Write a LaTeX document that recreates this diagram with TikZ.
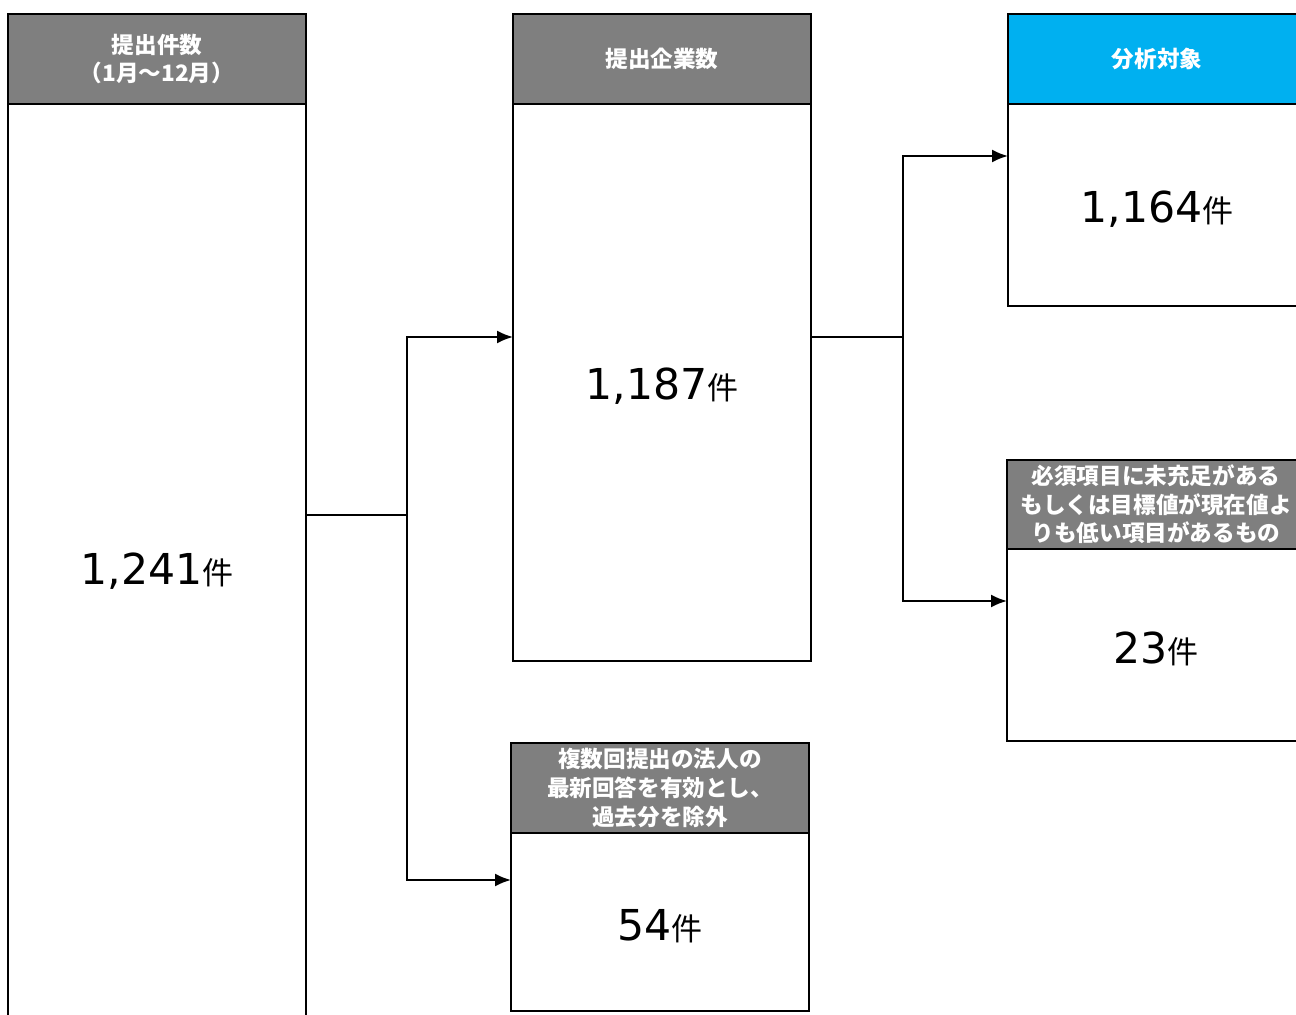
\documentclass[tikz,border=0pt]{standalone}
\usepackage{fontspec}
\setmainfont{DejaVu Sans}
\newfontfamily\jp{Noto Sans CJK JP}
\usetikzlibrary{positioning,arrows.meta}

\definecolor{headgray}{HTML}{7F7F7F}
\definecolor{headcyan}{HTML}{00B0F0}

\newcommand{\kensu}[1]{\raisebox{-2pt}[\height][\depth]{{\fontsize{21.3}{24}\selectfont #1}{\jp\fontsize{15.5}{18}\selectfont 件}}}

\tikzset{
    box/.style={draw=black,line width=1pt,inner sep=0pt,outer sep=0pt,minimum width=149pt},
    head/.style={box,fill=headgray,text=white,align=center,minimum height=45pt,anchor=north west,
        font=\jp\bfseries\fontsize{11.3}{14.3}\selectfont},
    body/.style={box,fill=white,below=0pt of #1},
    link/.style={line width=1pt,line cap=rect}
}

\begin{document}
\begin{tikzpicture}[x=0.5pt,y=-0.5pt,>={Latex[length=8pt,width=6.5pt]}]
        \useasboundingbox (0,0) rectangle (1296,1015);
        \clip (0,0) rectangle (1296,1015);

        % 左列
        \node[head] (hA) at (8,14) {提出件数\\（1月～12月）};
        \node[body=hA,minimum height=463pt] (bA) {\kensu{1,241}};

        % 中列
        \node[head] (hB) at (513,14) {提出企業数};
        \node[body=hB,minimum height=278.5pt] (bB) {\kensu{1,187}};
        \node[head] (hC) at (511,743) {複数回提出の法人の\\最新回答を有効とし、\\過去分を除外};
        \node[body=hC,minimum height=89pt] (bC) {\kensu{54}};

        % 右列（右端は切れている）
        \node[head,fill=headcyan] (hD) at (1008,14) {分析対象};
        \node[body=hD,minimum height=101pt] (bD) {\kensu{1,164}};
        \node[head,minimum height=44.5pt] (hE) at (1007,460) {必須項目に未充足がある\\もしくは目標値が現在値よ\\りも低い項目があるもの};
        \node[body=hE,minimum height=96pt] (bE) {\kensu{23}};

        % 分岐
        \coordinate (jA) at (407,515);
        \coordinate (jB) at (407,337);
        \coordinate (jC) at (407,880);
        \draw[link] (bA.east |- jA) -- (jA);
        \draw[link] (jB) -- (jC);
        \draw[link,->] (jB) -- (jB -| bB.west);
        \draw[link,->] (jC) -- (jC -| bC.west);

        \coordinate (jM) at (903,337);
        \coordinate (jD) at (903,156);
        \coordinate (jE) at (903,601);
        \draw[link] (bB.east |- jM) -- (jM);
        \draw[link] (jD) -- (jE);
        \draw[link,->] (jD) -- (jD -| bD.west);
        \draw[link,->] (jE) -- (jE -| bE.west);

    \end{tikzpicture}
\end{document}
